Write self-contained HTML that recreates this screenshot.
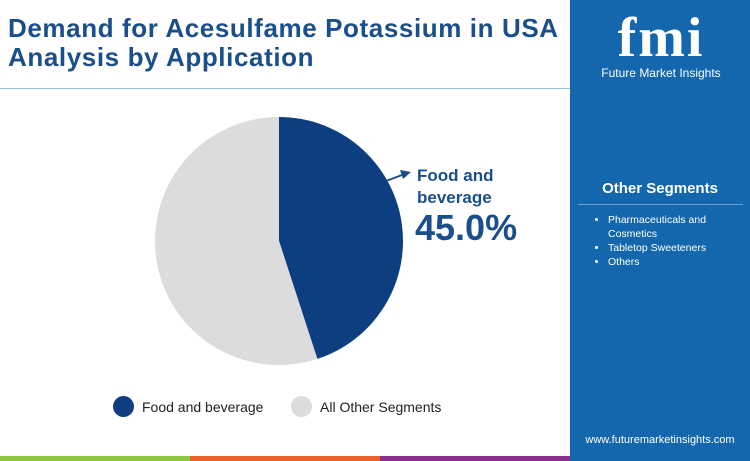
<!DOCTYPE html>
<html><head><meta charset="utf-8"><style>
body{margin:0;width:750px;height:461px;overflow:hidden;background:#fff;font-family:"Liberation Sans",Arial,sans-serif;position:relative}
.abs{position:absolute}
</style></head><body>
<div class="abs" style="left:8px;top:14px;font-size:26px;letter-spacing:0.6px;font-weight:bold;color:#1a4f8c;line-height:29px;white-space:nowrap">Demand for Acesulfame Potassium in USA<br>Analysis by Application</div>
<div class="abs" style="left:0;top:88px;width:570px;height:1px;background:#9cc0df"></div>
<div class="abs" style="left:570px;top:0;width:180px;height:461px;background:#1467ac"></div>
<div class="abs" style="left:596px;top:10px;width:130px;text-align:center;color:#fff;font-family:'Liberation Serif',serif;font-weight:bold;font-size:56px;line-height:56px;letter-spacing:2px">fmi</div>
<div class="abs" style="left:596px;top:66px;width:130px;text-align:center;color:#fff;font-size:12px">Future Market Insights</div>
<div class="abs" style="left:570px;top:180px;width:180px;text-align:center;color:#fff;font-weight:bold;font-size:15px">Other Segments</div>
<div class="abs" style="left:578px;top:204px;width:165px;height:1px;background:#6fa3d1"></div>
<ul class="abs" style="left:590px;top:213px;margin:0;padding-left:18px;width:140px;color:#fff;font-size:10.5px;line-height:14px">
<li>Pharmaceuticals and Cosmetics</li>
<li>Tabletop Sweeteners</li>
<li>Others</li></ul>
<div class="abs" style="left:570px;top:434px;width:180px;text-align:center;color:#fff;font-size:11px">www.futuremarketinsights.com</div>
<div class="abs" style="left:0;top:456px;width:190px;height:5px;background:#8dc63f"></div>
<div class="abs" style="left:190px;top:456px;width:190px;height:5px;background:#e8622a"></div>
<div class="abs" style="left:380px;top:456px;width:190px;height:5px;background:#8b2f8f"></div>
<svg class="abs" style="left:0;top:0" width="570" height="456" id="pie"></svg>
<div class="abs" style="left:417px;top:165px;color:#1a4f8c;font-weight:bold;font-size:17px;line-height:22px">Food and<br>beverage</div>
<div class="abs" style="left:415px;top:207px;color:#1a4f8c;font-weight:bold;font-size:36px">45.0%</div>
<div class="abs" style="left:113px;top:396px;font-size:14px;color:#222;display:flex;align-items:center"><span style="width:21px;height:21px;border-radius:50%;background:#0d3f80;display:inline-block;margin-right:8px"></span>Food and beverage</div>
<div class="abs" style="left:291px;top:396px;font-size:14px;color:#222;display:flex;align-items:center"><span style="width:21px;height:21px;border-radius:50%;background:#dcdcdc;display:inline-block;margin-right:8px"></span>All Other Segments</div>
<script>
const categories=["Food and beverage","All Other Segments"];
const values=[45.0,55.0];
const colors=["#0d3f80","#dcdcdc"];
const svg=document.getElementById('pie');
const cx=279,cy=241,r=124;
const total=values.reduce((a,b)=>a+b,0);
let a0=0;
values.forEach((v,i)=>{
  const a1=a0+v/total*2*Math.PI;
  const x0=cx+r*Math.sin(a0),y0=cy-r*Math.cos(a0),x1=cx+r*Math.sin(a1),y1=cy-r*Math.cos(a1);
  const p=document.createElementNS('http://www.w3.org/2000/svg','path');
  p.setAttribute('d',`M${cx},${cy}L${x0},${y0}A${r},${r} 0 ${a1-a0>Math.PI?1:0} 1 ${x1},${y1}Z`);
  p.setAttribute('fill',colors[i]);
  
  
  svg.appendChild(p);
  a0=a1;
});
const ln=document.createElementNS('http://www.w3.org/2000/svg','path');
ln.setAttribute('d','M386,181L402,175');
ln.setAttribute('stroke','#1a4f8c');ln.setAttribute('stroke-width','2');ln.setAttribute('fill','none');


svg.appendChild(ln);
const hd=document.createElementNS('http://www.w3.org/2000/svg','path');
hd.setAttribute('d','M411,172L400,170L403,179Z');
hd.setAttribute('fill','#1a4f8c');


svg.appendChild(hd);
</script>
</body></html>
